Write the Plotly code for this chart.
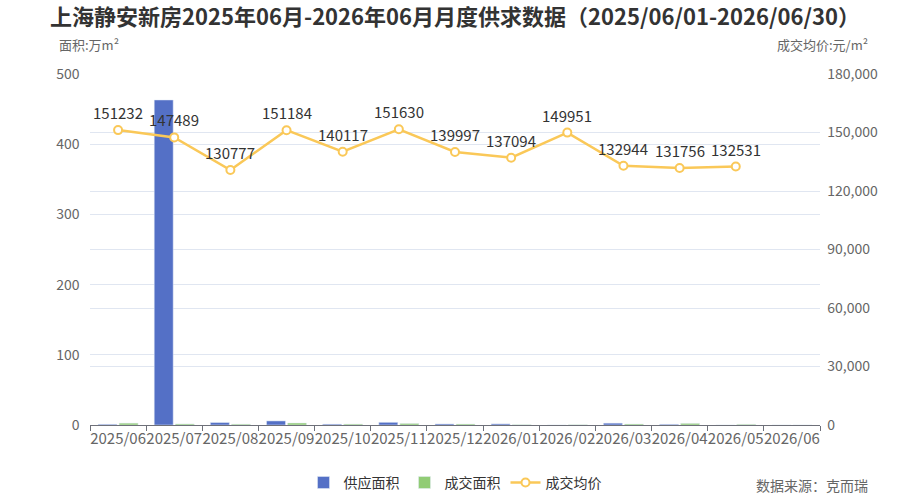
import plotly.graph_objects as go

months = ["2025/06", "2025/07", "2025/08", "2025/09", "2025/10", "2025/11", "2025/12",
          "2026/01", "2026/02", "2026/03", "2026/04", "2026/05", "2026/06"]
supply = [1.0, 463.0, 3.5, 5.8, 1.2, 3.8, 1.5, 1.6, 0, 2.6, 1.0, 0, 0]
deal = [2.6, 1.5, 1.2, 2.8, 1.3, 2.2, 1.4, 0.5, 0.4, 1.4, 2.3, 1.0, 0]
price = [151232, 147489, 130777, 151184, 140117, 151630, 139997, 137094, 149951,
         132944, 131756, 132531, None]

FONT = "Noto Sans CJK SC, Microsoft YaHei, sans-serif"

fig = go.Figure()
fig.add_trace(go.Bar(x=months, y=supply, name="供应面积", marker_color="#5470c6",
                     yaxis="y"))
fig.add_trace(go.Bar(x=months, y=deal, name="成交面积", marker_color="#91cc75",
                     yaxis="y"))
fig.add_trace(go.Scatter(
    x=months, y=price, name="成交均价", yaxis="y2", mode="lines+markers",
    line=dict(color="#fac858", width=2.5),
    marker=dict(size=8, color="white", line=dict(color="#fac858", width=2)),
    cliponaxis=False,
))
for m, v in zip(months, price):
    if v is not None:
        fig.add_annotation(x=m, y=v, xref="x", yref="y2", text=str(v), showarrow=False,
                           yanchor="bottom", yshift=5,
                           font=dict(size=15, color="#333333", family=FONT))

fig.update_layout(
    width=910, height=500,
    margin=dict(l=90, r=90, t=74, b=75, autoexpand=False),
    paper_bgcolor="white", plot_bgcolor="white",
    font=dict(family=FONT, color="#666666", size=13),
    title=dict(text="<b>上海静安新房2025年06月-2026年06月月度供求数据（2025/06/01-2026/06/30）</b>",
               x=0.5, xanchor="center", y=0.966, yanchor="middle",
               font=dict(size=22, color="#333333", family=FONT)),
    barmode="group", bargap=0.25, bargroupgap=0.1,
    xaxis=dict(type="category", range=[-0.5, 12.5], tickson="boundaries",
               ticks="outside", ticklen=5,
               tickcolor="#6e7079", showline=True, linecolor="#6e7079", linewidth=1,
               showgrid=False, tickangle=0, automargin=False,
               tickfont=dict(size=15, color="#666666")),
    yaxis=dict(range=[0, 500], dtick=100, showgrid=True, gridcolor="#e0e6f1",
               zeroline=False, showline=False, automargin=False,
               tickfont=dict(size=14, color="#666666"), ticksuffix="   "),
    yaxis2=dict(range=[0, 180000], dtick=30000, overlaying="y", side="right",
                showgrid=True, gridcolor="#e0e6f1", zeroline=False, showline=False,
                automargin=False, tickformat=",",
                tickfont=dict(size=14, color="#666666"), tickprefix="  "),
    legend=dict(orientation="h", x=0.5, xanchor="center", y=-0.165, yanchor="middle",
                font=dict(size=14, color="#333333")),
    showlegend=True,
)

fig.add_annotation(text="面积:万m²", xref="paper", yref="paper", x=-0.045, y=1.083,
                   xanchor="left", yanchor="middle", showarrow=False,
                   font=dict(size=13, color="#666666"))
fig.add_annotation(text="成交均价:元/m²", xref="paper", yref="paper", x=1.068, y=1.083,
                   xanchor="right", yanchor="middle", showarrow=False,
                   font=dict(size=13, color="#666666"))
fig.add_annotation(text="数据来源：克而瑞", xref="paper", yref="paper", x=1.068, y=-0.17,
                   xanchor="right", yanchor="middle", showarrow=False,
                   font=dict(size=14, color="#666666"))

fig.write_html("out.html")
